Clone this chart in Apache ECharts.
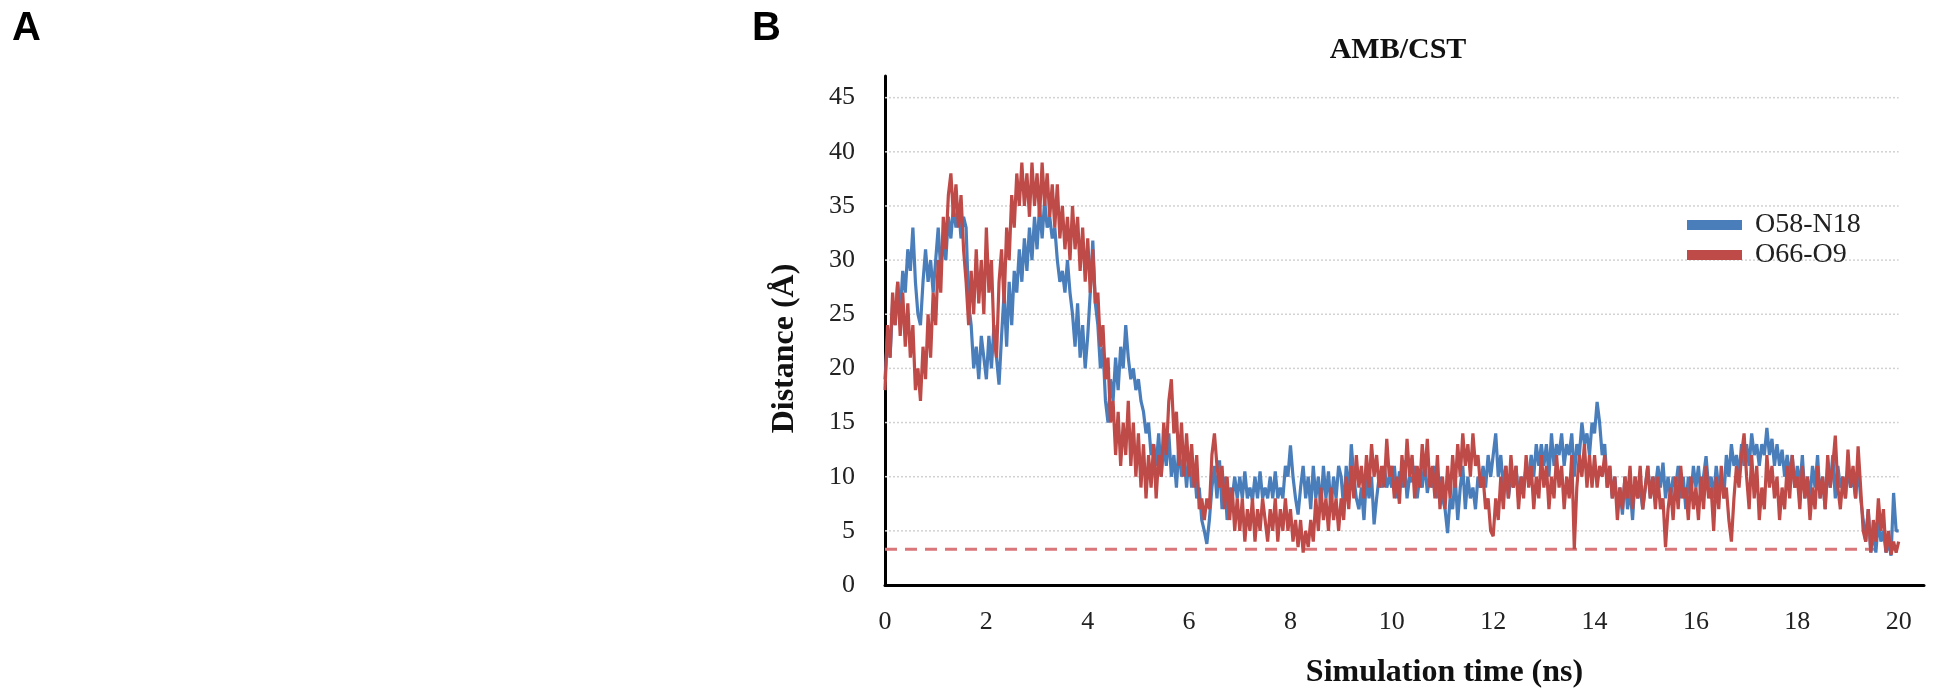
<!DOCTYPE html>
<html>
<head>
<meta charset="utf-8">
<title>AMB/CST</title>
<script src="https://cdn.jsdelivr.net/npm/echarts@6/dist/echarts.min.js"></script>
<style>
  html, body { margin: 0; padding: 0; background: #fff; }
  #chart { width: 1933px; height: 696px; }
</style>
</head>
<body>
<div id="chart"></div>
<script>
// sampling step of the trajectory (ns)
const dt = 0.05;

// O58-N18 distance (Å), one row per ns
const o58n18 = [].concat(
  [19,23,21,26,24,28,25,29,27,31,29,33,28,25,24,28,31,28,30,27],
  [30,33,29,32,30,34,32,35,33,35,32,34,33,26,24,20,22,19,23,21],
  [19,23,20,24,21,18.5,23,27,22,28,24,29,27,31,28,32,29,33,30,34],
  [31,35,32,35.5,33,34,32,33,30,28,29,27,30,27,25,22,26,21,24,20],
  [23,27,31.8,26,24,20,22,17,15,19,17,21,18,22,20,24,21,19,20,18],
  [19,17,16,14,15,12,13,11,14,10,13,11,14,10,12,9,13,10,12,9],
  [12,9,11,8,9,6,5,3.8,6,9,11,8,11.5,7,10,6,9,8,10,8],
  [10,8,10.5,8,9,7.8,10,8,10.5,8,9,8,10,8,10.5,8,9,8,11,10],
  [12.9,10,8,6.5,9,11,8,10,7,11,8,10,7,11,8,10.5,7,10,8,11],
  [10,7,11,8,13,10,8,7,9,6,10,8,10,5.6,8,10,9,11,9,10],
  [9,11,8,10.5,9,11.5,8,10,9.5,11,8,10,9,11.5,8.5,10,9,11,8,10],
  [8,7,4.8,8,7,10,6,9,11,7,10,8,9,7,10,9,11,9,12,10],
  [12,14,10,12,9,11,8,10,9,11,8,10,9,11,10,12,10,13,11,13],
  [11,13,10,14,11,13,12,14,11,13,12,14,10,13,12,15,13,14,12,15],
  [14,16.9,15,12,13,9,11,8,10,7,9,6.5,10,7,9,6,10,8,9,7],
  [9,11,8,10,9,11,9,11.3,8,10,8,10,9,11,8,10,7,10,8,11],
  [9,11,8,10,11.9,9,10,8,11,9,10,8,12,10,13,11,12,10,13,11],
  [13,11,14,12,13,11,13,12,14.5,12,13.5,11,13,11,12.5,10,12,10,12,9],
  [11,9,12,8,10,8,11,9,12,8,10,7,11,9,12,8,11,9,10,8],
  [11,9,10,8,11,8,6,4,7,3,5,3,6,4,5,3,4,2.7,8.5,5],
  [5]
);

// O66-O9 distance (Å), one row per ns
const o66o9 = [].concat(
  [18,24,21,27,24,28,23,27,22,26,21,24,18,20,17,22,19,25,21,27],
  [24,30,27,34,31,36,38,34,37,33,36,31,28,24,29,25,31,26,30,25],
  [33,27,30,23,21,28,31,26,33,30,36,33,38,35,39,35,38,34,39,35],
  [38,34,39,35,38,34,37,33,37,32,35,31,34,30,35,31,34,29,33,28],
  [32,27,31,26,27,22,24,19,21,15,17,12,16,11,15,12,17,11,15,10],
  [14,9,13,8,12,9,13,8,12,10,15,12,17,19,14,16,11,15,10,14],
  [10,13,9,12,7,8,6,8,7,12,14,11,9,11,7,10,6,9,5,8],
  [5,8,4,7,5,8,4,7,5,8,6,4,7,5,8,4,7,5,8,5],
  [7,4,6,3.5,6,3,5,3.5,6,4,8,5,9,6,8,5,9,6,8,5],
  [8,6,10,7,11,8,12,9,11,8,12,9,13,10,12,9,11,9,13.5,10],
  [11,8,10,7.5,12,9,13.5,10,12,8,11,9,13,10,13.5,9,11,8,12,7],
  [10,7,11,8,12,9,13,10,14,11,13,10,14,11,12,9,10,7,8,5],
  [4.5,8,6,10,7,11,8,12,9,11,7,10,8,12,9,11,7,10,8,12],
  [9,11,7,10,8,12,9,11,7,10,8,12,3.3,9,12,10,13,9,12,9],
  [12,9,11,10,12,9,11,8,10,6,9,7,10,8,11,7,10,8,11,7],
  [9,11,8,10,7,10,7,8,3.5,7,9,6,10,7,11,8,9,6,10,7],
  [9,6,10,7,11,8,9,5,10,7,11,8,9,6,4,8,11,9,12,14],
  [10,7,12,8,11,6,9,7,12,9,11,8,10,6,9,7,11,8,12,9],
  [10,7,11,8,10,6,9,7,11,8,10,7,12,9,11,13.8,9,7,10,8],
  [12.5,9,11,8,12.8,9,5,4,7,3,6,4,8,5,7,3,5,2.8,4,3],
  [4]
);

// horizontal guide levels and the H-bond cutoff
const gridLevels = [5, 10, 15, 20, 25, 30, 35, 40, 45];
const cutoff = 3.3;
const tEnd = 20;

const serif = 'Liberation Serif, Times New Roman, serif';

function toPairs(values) {
  return values.map(function (v, i) {
    return [+(i * dt).toFixed(2), v];
  });
}

let myChart = echarts.init(document.getElementById('chart'));

// dotted grid lines, stop at 20 ns like the original
let guideSeries = gridLevels.map(function (v) {
  return {
    type: 'line',
    data: [[0, v], [tEnd, v]],
    symbol: 'none',
    silent: true,
    z: 1,
    lineStyle: { color: '#d2d2d2', width: 1.5, type: [2, 2] }
  };
});

myChart.setOption({
  animation: false,
  backgroundColor: '#fff',
  title: {
    text: 'AMB/CST',
    left: 1393,
    top: 30,
    textAlign: 'center',
    textStyle: { fontFamily: serif, fontWeight: 'bold', fontSize: 30, color: '#111' }
  },
  graphic: [
    { type: 'text', left: 12, top: 9, style: { text: 'A', font: 'bold 40px Liberation Sans, Arial, sans-serif', fill: '#000' } },
    { type: 'text', left: 752, top: 9, style: { text: 'B', font: 'bold 40px Liberation Sans, Arial, sans-serif', fill: '#000' } }
  ],
  legend: {
    data: ['O58-N18', 'O66-O9'],
    orient: 'vertical',
    left: 1682,
    top: 206,
    itemWidth: 55,
    itemHeight: 10,
    itemGap: 2,
    icon: 'rect',
    textStyle: { fontFamily: serif, fontSize: 28, color: '#222', padding: [0, 0, 0, 8] }
  },
  grid: { left: 885, right: 9, top: 76, bottom: 111 },
  xAxis: {
    type: 'value',
    min: 0,
    max: 20.5,
    interval: 2,
    name: 'Simulation time (ns)',
    nameLocation: 'middle',
    nameGap: 72,
    nameTextStyle: { fontFamily: serif, fontWeight: 'bold', fontSize: 32, color: '#111', padding: [0, 0, 0, 80] },
    axisLine: { lineStyle: { color: '#000', width: 3 } },
    axisTick: { show: false },
    splitLine: { show: false },
    axisLabel: { fontFamily: serif, fontSize: 26, color: '#222', margin: 24, showMaxLabel: false }
  },
  yAxis: {
    type: 'value',
    min: 0,
    max: 47,
    interval: 5,
    name: 'Distance (Å)',
    nameLocation: 'middle',
    nameGap: 84,
    nameTextStyle: { fontFamily: serif, fontWeight: 'bold', fontSize: 32, color: '#111', padding: [0, 36, 0, 0] },
    axisLine: { show: true, lineStyle: { color: '#000', width: 3 } },
    axisTick: { show: false },
    splitLine: { show: false },
    axisLabel: { fontFamily: serif, fontSize: 26, color: '#222', margin: 30, showMaxLabel: false }
  },
  series: guideSeries.concat([
    {
      name: 'cutoff',
      type: 'line',
      data: [[0, cutoff], [tEnd, cutoff]],
      symbol: 'none',
      silent: true,
      z: 3,
      lineStyle: { color: '#d9767a', width: 3, type: [12, 8] }
    },
    {
      name: 'O58-N18',
      type: 'line',
      data: toPairs(o58n18),
      symbol: 'none',
      z: 4,
      color: '#4a7ebb',
      lineStyle: { color: '#4a7ebb', width: 3.2 }
    },
    {
      name: 'O66-O9',
      type: 'line',
      data: toPairs(o66o9),
      symbol: 'none',
      z: 5,
      color: '#be4b48',
      lineStyle: { color: '#be4b48', width: 3.2 }
    }
  ])
});

window.addEventListener('resize', function () {
  myChart.resize();
});
</script>
</body>
</html>
